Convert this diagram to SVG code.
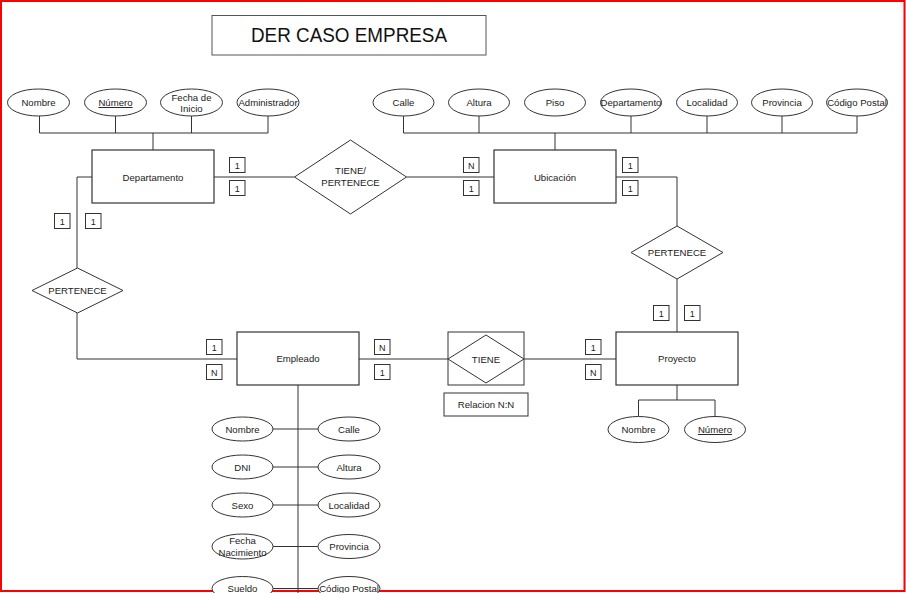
<svg xmlns="http://www.w3.org/2000/svg" width="906" height="593" viewBox="0 0 906 593">
<style>
.ln{stroke:#333;stroke-width:1;fill:none}
.ent{fill:#fff;stroke:#333;stroke-width:1.2}
.att{fill:#fff;stroke:#333;stroke-width:1}
.rel{fill:#fff;stroke:#333;stroke-width:1}
.nb{fill:#fff;stroke:#333;stroke-width:1}
text{font-family:"Liberation Sans",Arial,sans-serif;font-size:9.6px;fill:#222;text-anchor:middle}
.s9{font-size:9px}
.u{text-decoration:underline}
</style>
<rect x="0" y="0" width="906" height="593" fill="#fff"/>
<rect x="1" y="1" width="903.5" height="590" fill="none" stroke="#f00" stroke-width="2"/>

<g id="title">
<rect x="212" y="15.5" width="274" height="39.5" fill="#fff" stroke="#555" stroke-width="1"/>
<text x="349" y="42.3" style="font-size:20px;fill:#111" textLength="196" lengthAdjust="spacingAndGlyphs">DER CASO EMPRESA</text>
</g>

<g id="connectors">
<path class="ln" d="M39.5 116V133M115.5 116V133M191.5 116V133M268 116V133M39.5 133H268M153 133V150"/>
<path class="ln" d="M403.5 116V133M479 116V133M631 116V133M707 116V133M782 116V133M857 116V133M403.5 133H857M555 133V150"/>
<path class="ln" d="M214 177H294.5M406.5 177H494"/>
<path class="ln" d="M616 177H677V226M677 279V332"/>
<path class="ln" d="M92 177H77V268M77 313V359H237"/>
<path class="ln" d="M359 359H448M524 359H616"/>
<path class="ln" d="M677 385V400M638.5 400H715M638.5 400V416M715 400V416"/>
<path class="ln" d="M298 385V593M273 429H318.5M273 467H318.5M273 505H318.5M273 546.5H318.5M273 588.5H318.5"/>
</g>

<g id="departamento">
<rect class="ent" x="92" y="150" width="122" height="53"/>
<text x="153" y="180.5">Departamento</text>
</g>
<g id="dep-attrs">
<ellipse class="att" cx="38.5" cy="102.5" rx="31" ry="13.5"/><text x="38.5" y="106">Nombre</text>
<ellipse class="att" cx="115.5" cy="102.5" rx="31" ry="13.5"/><text x="115.5" y="106" class="u">Número</text>
<ellipse class="att" cx="191.5" cy="102.5" rx="31" ry="13.5"/><text x="191.5" y="100.5">Fecha de</text><text x="191.5" y="112">Inicio</text>
<ellipse class="att" cx="268" cy="102.5" rx="31" ry="13.5"/><text x="268" y="106">Administrador</text>
</g>

<g id="tiene-pertenece">
<polygon class="rel" points="350.5,140 406.5,177 350.5,214 294.5,177"/>
<text x="350.5" y="174">TIENE/</text>
<text x="350.5" y="186">PERTENECE</text>
</g>

<g id="ubicacion">
<rect class="ent" x="494" y="150" width="122" height="53"/>
<text x="555" y="180.5">Ubicación</text>
</g>
<g id="ubi-attrs">
<ellipse class="att" cx="403.5" cy="102.5" rx="30.5" ry="13.5"/><text x="403.5" y="106">Calle</text>
<ellipse class="att" cx="479" cy="102.5" rx="30.5" ry="13.5"/><text x="479" y="106">Altura</text>
<ellipse class="att" cx="555" cy="102.5" rx="30.5" ry="13.5"/><text x="555" y="106">Piso</text>
<ellipse class="att" cx="631" cy="102.5" rx="30.5" ry="13.5"/><text x="631" y="106">Departamento</text>
<ellipse class="att" cx="707" cy="102.5" rx="30.5" ry="13.5"/><text x="707" y="106">Localidad</text>
<ellipse class="att" cx="782" cy="102.5" rx="30.5" ry="13.5"/><text x="782" y="106">Provincia</text>
<ellipse class="att" cx="857" cy="102.5" rx="30.5" ry="13.5"/><text x="857" y="106">Código Postal</text>
</g>

<g id="pertenece-right">
<polygon class="rel" points="677,226 723,252.5 677,279 631,252.5"/>
<text x="677" y="256">PERTENECE</text>
</g>

<g id="pertenece-left">
<polygon class="rel" points="77.5,268 123,290.5 77.5,313 32,290.5"/>
<text x="77.5" y="294">PERTENECE</text>
</g>

<g id="empleado">
<rect class="ent" x="237" y="332" width="122" height="53"/>
<text x="298" y="362">Empleado</text>
</g>

<g id="tiene">
<rect class="rel" x="448" y="332" width="76" height="53"/>
<polygon class="rel" points="486,335 524,359 486,383 448,359"/>
<text x="486" y="362.5">TIENE</text>
</g>
<g id="relacion-nn">
<rect class="rel" x="444" y="393" width="84" height="23"/>
<text x="486" y="408">Relacion N:N</text>
</g>

<g id="proyecto">
<rect class="ent" x="616" y="332" width="122" height="53"/>
<text x="677" y="362">Proyecto</text>
</g>
<g id="pro-attrs">
<ellipse class="att" cx="638.5" cy="429.5" rx="30.5" ry="13"/><text x="638.5" y="433">Nombre</text>
<ellipse class="att" cx="715" cy="429.5" rx="30.5" ry="13"/><text x="715" y="433" class="u">Número</text>
</g>

<g id="emp-attrs">
<ellipse class="att" cx="242.5" cy="429" rx="30.5" ry="12"/><text x="242.5" y="432.5">Nombre</text>
<ellipse class="att" cx="349" cy="429" rx="31" ry="12"/><text x="349" y="432.5">Calle</text>
<ellipse class="att" cx="242.5" cy="467" rx="30.5" ry="12"/><text x="242.5" y="470.5">DNI</text>
<ellipse class="att" cx="349" cy="467" rx="31" ry="12"/><text x="349" y="470.5">Altura</text>
<ellipse class="att" cx="242.5" cy="505" rx="30.5" ry="12"/><text x="242.5" y="508.5">Sexo</text>
<ellipse class="att" cx="349" cy="505" rx="31" ry="12"/><text x="349" y="508.5">Localidad</text>
<ellipse class="att" cx="242.5" cy="546.5" rx="30.5" ry="12.5"/><text x="242.5" y="544">Fecha</text><text x="242.5" y="556">Nacimiento</text>
<ellipse class="att" cx="349" cy="546.5" rx="31" ry="12"/><text x="349" y="550">Provincia</text>
<ellipse class="att" cx="242.5" cy="588.5" rx="30.5" ry="12"/><text x="242.5" y="592">Sueldo</text>
<ellipse class="att" cx="349" cy="588.5" rx="31" ry="12"/><text x="349" y="592">Código Postal</text>
</g>

<g id="cardinalities">
<rect class="nb" x="229.5" y="157.5" width="15.5" height="15"/><text class="s9" x="237.2" y="168.5">1</text>
<rect class="nb" x="229.5" y="180.5" width="15.5" height="15"/><text class="s9" x="237.2" y="191.5">1</text>
<rect class="nb" x="463.5" y="157.5" width="15.5" height="15"/><text class="s9" x="471.2" y="168.5">N</text>
<rect class="nb" x="463.5" y="180.5" width="15.5" height="15"/><text class="s9" x="471.2" y="191.5">1</text>
<rect class="nb" x="622.5" y="157.5" width="15.5" height="15"/><text class="s9" x="630.2" y="168.5">1</text>
<rect class="nb" x="622.5" y="180.5" width="15.5" height="15"/><text class="s9" x="630.2" y="191.5">1</text>
<rect class="nb" x="653.5" y="305.5" width="15.5" height="15"/><text class="s9" x="661.2" y="316.5">1</text>
<rect class="nb" x="684.5" y="305.5" width="15.5" height="15"/><text class="s9" x="692.2" y="316.5">1</text>
<rect class="nb" x="54.5" y="213.5" width="15.5" height="15"/><text class="s9" x="62.2" y="224.5">1</text>
<rect class="nb" x="85.5" y="213.5" width="15.5" height="15"/><text class="s9" x="93.2" y="224.5">1</text>
<rect class="nb" x="206.5" y="339.5" width="15.5" height="15"/><text class="s9" x="214.2" y="350.5">1</text>
<rect class="nb" x="206.5" y="364.5" width="15.5" height="15"/><text class="s9" x="214.2" y="375.5">N</text>
<rect class="nb" x="374.5" y="339.5" width="15.5" height="15"/><text class="s9" x="382.2" y="350.5">N</text>
<rect class="nb" x="374.5" y="364.5" width="15.5" height="15"/><text class="s9" x="382.2" y="375.5">1</text>
<rect class="nb" x="585.5" y="339.5" width="15.5" height="15"/><text class="s9" x="593.2" y="350.5">1</text>
<rect class="nb" x="585.5" y="364.5" width="15.5" height="15"/><text class="s9" x="593.2" y="375.5">N</text>
</g>
</svg>
